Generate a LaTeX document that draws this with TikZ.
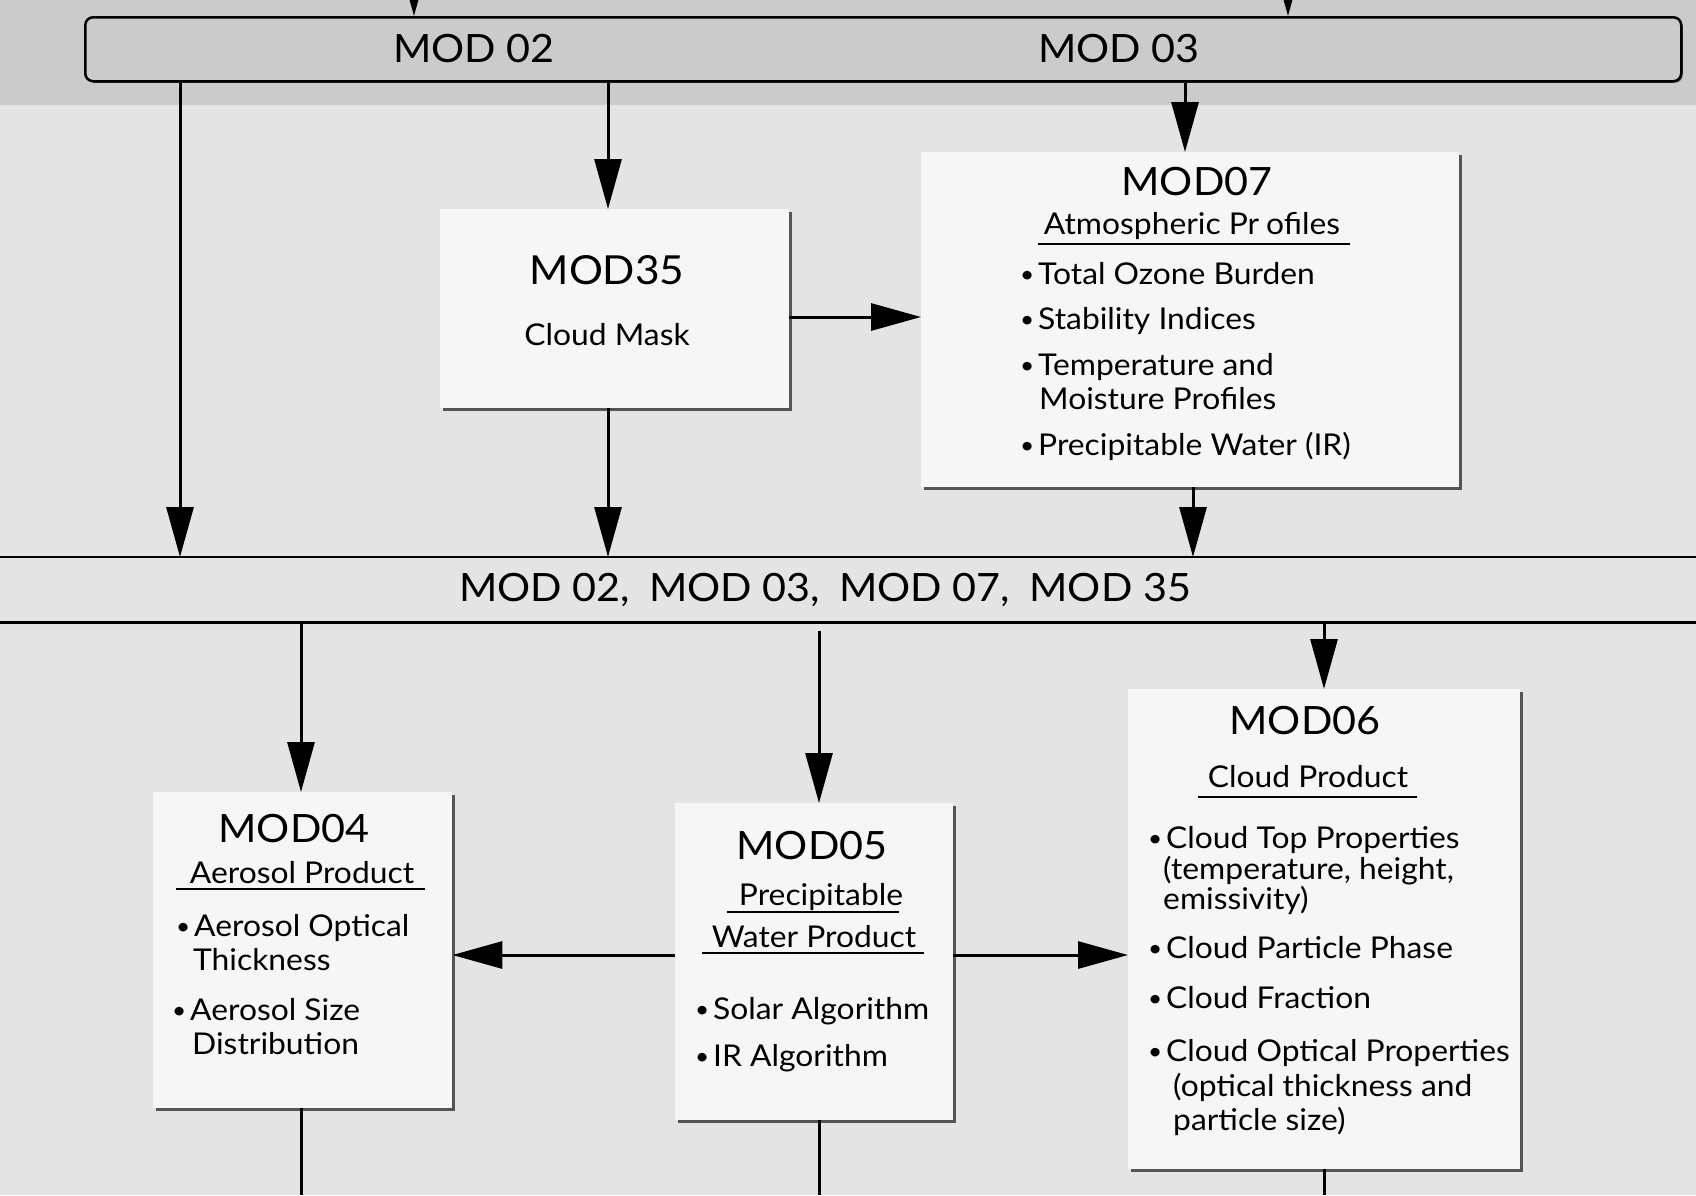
\documentclass[tikz,border=0pt]{standalone}
\usepackage{fontspec}
\setmainfont{Lato}[FakeStretch=1.06]
\usetikzlibrary{arrows.meta,shadows}

\definecolor{pagebg}{HTML}{E4E4E4}
\definecolor{headbg}{HTML}{CBCBCB}
\definecolor{boxfill}{HTML}{F6F6F6}
\definecolor{shadowgray}{HTML}{555555}

\newcommand\mtitle{\fontsize{39}{44}\selectfont}
\newcommand\mbody{\fontsize{30}{36}\selectfont}
\newcommand\bul{\makebox[18pt][l]{\raisebox{1.5pt}{\fontsize{23}{23}\selectfont\textbullet}}}

\begin{document}
\begin{tikzpicture}[x=1pt,y=-1pt,
  prodbox/.style={rectangle, fill=boxfill, draw=none, inner sep=0pt, anchor=north west,
    drop shadow={shadow xshift=2.5pt, shadow yshift=-2.5pt, fill=shadowgray, opacity=1}},
  ttl/.style={inner sep=0pt, font=\mtitle, anchor=base},
  sub/.style={inner sep=0pt, font=\mbody, anchor=base},
  item/.style={inner sep=0pt, font=\mbody, anchor=base west},
  conn/.style={line width=3pt, draw=black},
  arr/.style={conn, -{Triangle[length=50pt,width=27pt]}},
  uline/.style={line width=2.5pt},
  bandline/.style={line width=2.5pt}]

% page background and header strip
\fill[pagebg] (0,0) rectangle (1696,1195);
\useasboundingbox (0,0) rectangle (1696,1195);
\fill[headbg] (0,0) rectangle (1696,105);

% header bar
\node[rectangle, rounded corners=8pt, fill=headbg, draw=black, line width=2.5pt,
      minimum width=1596pt, minimum height=64pt, anchor=north west, inner sep=0pt,
      drop shadow={shadow xshift=1.5pt, shadow yshift=-1.5pt, fill=shadowgray, opacity=1}]
      (top) at (84,16) {};
\node[ttl] (l02) at (474,62) {MOD 02};
\node[ttl] (l03) at (1119,62) {MOD 03};

% inputs arriving from above
\coordinate (ina) at (414,-60);
\coordinate (inb) at (1288,-60);
\begin{scope}
  \clip (0,0) rectangle (1696,1195);
  \draw[arr] (ina) -- (top.north -| ina);
  \draw[arr] (inb) -- (top.north -| inb);
\end{scope}

% middle band
\node[rectangle, inner sep=0pt, minimum width=1696pt, minimum height=65pt,
      anchor=north west] (band) at (0,557) {};
\draw[bandline] (band.north west) -- (band.north east);
\draw[bandline] (band.south west) -- (band.south east);
\node[ttl] (lband) at (825,601) {MOD 02,\: MOD 03,\: MOD 07,\: MOD 35};

% product boxes
\node[prodbox, minimum width=349pt, minimum height=199pt] (m35) at (440,209) {};
\node[prodbox, minimum width=538pt, minimum height=335pt] (m07) at (921,152) {};
\node[prodbox, minimum width=299pt, minimum height=316pt] (m04) at (153,792) {};
\node[prodbox, minimum width=278pt, minimum height=317pt] (m05) at (675,803) {};
\node[prodbox, minimum width=392pt, minimum height=480pt] (m06) at (1128,689) {};

% MOD35
\node[ttl] (t35) at (607,284) {\fontsize{40}{44}\selectfont MOD35};
\node[sub] (s35) at (607,345) {Cloud Mask};

% MOD07
\node[ttl] (t07) at (1197,195) {MOD07};
\node[sub] (s07) at (1192,234) {Atmospheric Pr\kern7pt ofiles};
\draw[uline] (1038,244) -- (1350,244);
\node[item] (a07) at (1020,284) {\bul Total Ozone Burden};
\node[item] (b07) at (1020,329) {\bul Stability Indices};
\node[item] (c07) at (1020,375) {\bul Temperature and};
\node[item] (d07) at (1039,409) {Moisture Profiles};
\node[item] (e07) at (1020,455) {\bul Precipitable Water (IR)};

% MOD04
\node[ttl] (t04) at (294,842) {MOD04};
\node[sub] (s04) at (302,883) {Aerosol Product};
\draw[uline] (176,889) -- (425,889);
\node[item] (a04) at (176,936) {\bul Aerosol Optical};
\node[item] (b04) at (193,970) {Thickness};
\node[item] (c04) at (172,1020) {\bul Aerosol Size};
\node[item] (d04) at (192,1054) {Distribution};

% MOD05
\node[ttl] (t05) at (812,859) {MOD05};
\node[sub] (s05) at (821,905) {Precipitable};
\draw[uline] (727,912) -- (899,912);
\node[sub] (r05) at (814,947) {Water Product};
\draw[uline] (702,953) -- (924,953);
\node[item] (a05) at (695,1019) {\bul Solar Algorithm};
\node[item] (b05) at (695,1066) {\bul IR Algorithm};

% MOD06
\node[ttl] (t06) at (1305,734) {MOD06};
\node[sub] (s06) at (1308,787) {Cloud Product};
\draw[uline] (1198,797) -- (1417,797);
\node[item] (a06) at (1148,848) {\bul Cloud Top Properties};
\node[item] (b06) at (1163,879) {(temperature, height,};
\node[item] (c06) at (1163,909) {emissivity)};
\node[item] (d06) at (1148,958) {\bul Cloud Particle Phase};
\node[item] (e06) at (1148,1008) {\bul Cloud Fraction};
\node[item] (f06) at (1148,1061) {\bul Cloud Optical Properties};
\node[item] (g06) at (1173,1096) {(optical thickness and};
\node[item] (h06) at (1173,1130) {particle size)};

% connector columns
\coordinate (xa) at (180,0);
\coordinate (xb) at (608,0);
\coordinate (xc) at (1185,0);
\coordinate (xd) at (1193,0);
\coordinate (xe) at (301,0);
\coordinate (xf) at (819,0);
\coordinate (xg) at (1324,0);
\coordinate (ya) at (0,317);
\coordinate (yb) at (0,955);
\coordinate (floor) at (0,1195);

% upper connectors
\draw[arr] (top.south -| xa) -- (band.north -| xa);
\draw[arr] (top.south -| xb) -- (m35.north -| xb);
\draw[arr] (top.south -| xc) -- (m07.north -| xc);
\draw[arr] (m35.east |- ya) -- (m07.west |- ya);
\draw[arr] (m35.south -| xb) -- (band.north -| xb);
\draw[arr] (m07.south -| xd) -- (band.north -| xd);

% lower connectors
\draw[arr] (band.south -| xe) -- (m04.north -| xe);
\draw[arr] ([yshift=-9pt]band.south -| xf) -- (m05.north -| xf);
\draw[arr] (band.south -| xg) -- (m06.north -| xg);
\draw[arr] (m05.west |- yb) -- (m04.east |- yb);
\draw[arr] (m05.east |- yb) -- (m06.west |- yb);

% outputs leaving downward
\draw[conn] (m04.south -| xe) -- (floor -| xe);
\draw[conn] (m05.south -| xf) -- (floor -| xf);
\draw[conn] (m06.south -| xg) -- (floor -| xg);
\end{tikzpicture}
\end{document}
